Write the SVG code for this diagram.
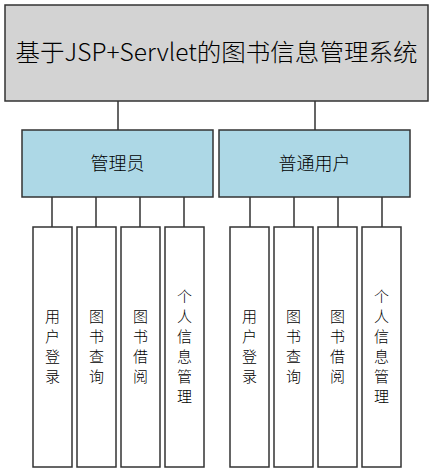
<svg xmlns="http://www.w3.org/2000/svg" width="433" height="473" viewBox="0 0 433 473">
<style>
.box{stroke:#333;stroke-width:1.5}
.root{fill:#d3d3d3}
.mid{fill:#add8e6}
.leaf{fill:#fff}
.ln{stroke:#333;stroke-width:1.5;fill:none}
text{font-family:"Noto Sans CJK SC","Noto Sans",sans-serif;font-weight:300;fill:#000;text-anchor:middle}
.t0{font-size:24px}
.t1{font-size:18px}
.t2{font-size:15px}
</style>
<rect width="433" height="473" fill="#fff"/>
<g id="connectors">
<path class="ln" d="M118 101V130M315 101V130"/>
<path class="ln" d="M52 197V227M96 197V227M140 197V227M184 197V227"/>
<path class="ln" d="M250 197V227M294 197V227M338 197V227M382 197V227"/>
</g>
<g id="root">
<rect class="box root" x="5" y="5" width="423" height="96"/>
<text class="t0" x="216.5" y="61" textLength="402" lengthAdjust="spacingAndGlyphs">基于JSP+Servlet的图书信息管理系统</text>
</g>
<g id="admin">
<rect class="box mid" x="22" y="130" width="191" height="67"/>
<text class="t1" x="117.5" y="170">管理员</text>
</g>
<g id="user">
<rect class="box mid" x="219" y="130" width="191" height="67"/>
<text class="t1" x="314.5" y="170">普通用户</text>
</g>
<g id="a1">
<rect class="box leaf" x="33" y="227" width="39" height="240"/>
<text class="t2"><tspan x="52.5" y="322">用</tspan><tspan x="52.5" y="342">户</tspan><tspan x="52.5" y="362">登</tspan><tspan x="52.5" y="382">录</tspan></text>
</g>
<g id="a2">
<rect class="box leaf" x="77" y="227" width="39" height="240"/>
<text class="t2"><tspan x="96.5" y="322">图</tspan><tspan x="96.5" y="342">书</tspan><tspan x="96.5" y="362">查</tspan><tspan x="96.5" y="382">询</tspan></text>
</g>
<g id="a3">
<rect class="box leaf" x="121" y="227" width="39" height="240"/>
<text class="t2"><tspan x="140.5" y="322">图</tspan><tspan x="140.5" y="342">书</tspan><tspan x="140.5" y="362">借</tspan><tspan x="140.5" y="382">阅</tspan></text>
</g>
<g id="a4">
<rect class="box leaf" x="165" y="227" width="39" height="240"/>
<text class="t2"><tspan x="184.5" y="302">个</tspan><tspan x="184.5" y="322">人</tspan><tspan x="184.5" y="342">信</tspan><tspan x="184.5" y="362">息</tspan><tspan x="184.5" y="382">管</tspan><tspan x="184.5" y="402">理</tspan></text>
</g>
<g id="u1">
<rect class="box leaf" x="230" y="227" width="39" height="240"/>
<text class="t2"><tspan x="249.5" y="322">用</tspan><tspan x="249.5" y="342">户</tspan><tspan x="249.5" y="362">登</tspan><tspan x="249.5" y="382">录</tspan></text>
</g>
<g id="u2">
<rect class="box leaf" x="274" y="227" width="39" height="240"/>
<text class="t2"><tspan x="293.5" y="322">图</tspan><tspan x="293.5" y="342">书</tspan><tspan x="293.5" y="362">查</tspan><tspan x="293.5" y="382">询</tspan></text>
</g>
<g id="u3">
<rect class="box leaf" x="318" y="227" width="39" height="240"/>
<text class="t2"><tspan x="337.5" y="322">图</tspan><tspan x="337.5" y="342">书</tspan><tspan x="337.5" y="362">借</tspan><tspan x="337.5" y="382">阅</tspan></text>
</g>
<g id="u4">
<rect class="box leaf" x="362" y="227" width="39" height="240"/>
<text class="t2"><tspan x="381.5" y="302">个</tspan><tspan x="381.5" y="322">人</tspan><tspan x="381.5" y="342">信</tspan><tspan x="381.5" y="362">息</tspan><tspan x="381.5" y="382">管</tspan><tspan x="381.5" y="402">理</tspan></text>
</g>
</svg>
